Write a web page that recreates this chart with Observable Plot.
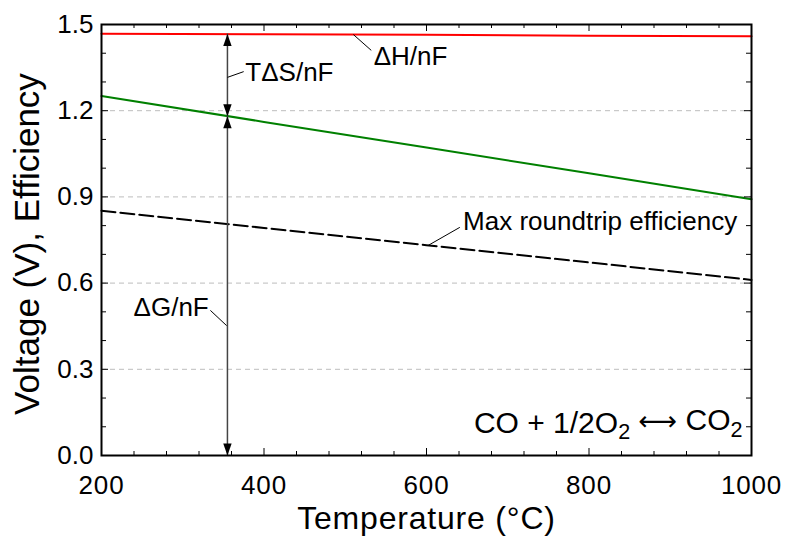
<!DOCTYPE html>
<html>
<head>
<meta charset="utf-8">
<script src="https://cdn.jsdelivr.net/npm/d3@7"></script>
<script src="https://cdn.jsdelivr.net/npm/@observablehq/plot@0.6"></script>
<style>
  html, body { margin: 0; padding: 0; background: #fff; }
</style>
</head>
<body>
<div id="chart"></div>
<script>
// ---- data ----
const temps = [200, 400, 600, 800, 1000];
const dHnF  = [1.468, 1.466, 1.464, 1.461, 1.459];
const dGnF  = [1.251, 1.161, 1.072, 0.982, 0.892];
const effic = [0.852, 0.792, 0.732, 0.672, 0.611];

const xMajorTicks = [200, 400, 600, 800, 1000];
const xMinorTicks = [240, 280, 320, 360, 440, 480, 520, 560, 640, 680, 720, 760, 840, 880, 920, 960];
const yMajorTicks = [0, 0.3, 0.6, 0.9, 1.2, 1.5];
const yMinorTicks = [0.1, 0.2, 0.4, 0.5, 0.7, 0.8, 1.0, 1.1, 1.3, 1.4];
const yGrid = [0.3, 0.6, 0.9, 1.2];

// arrows at T = 355 °C
const arrowT = 355;
const arrowLevels = [1.467, 1.181, 0]; // ΔH/nF, ΔG/nF, 0

// annotation labels and leader lines
const labels = [
  {text: "ΔH/nF", T: 535, v: 1.389, anchor: "start"},
  {text: "TΔS/nF", T: 377, v: 1.333, anchor: "start"},
  {text: "Max roundtrip efficiency", T: 645, v: 0.814, anchor: "start"},
  {text: "ΔG/nF", T: 332, v: 0.513, anchor: "end"}
];
const leaders = [
  {T1: 510, v1: 1.465, T2: 532, v2: 1.41},
  {T1: 355, v1: 1.316, T2: 375, v2: 1.336},
  {T1: 602, v1: 0.731, T2: 641, v2: 0.794},
  {T1: 334, v1: 0.505, T2: 354, v2: 0.452}
];
const reaction = {text: "CO + 1/2O2 ↔ CO2", T: 989, v: 0.112};
const xTitle = "Temperature (°C)";
const yTitle = "Voltage (V), Efficiency";

// ---- build tables ----
const rows = temps.map((t, i) => ({t, dH: dHnF[i], dG: dGnF[i], eff: effic[i]}));
const shafts = [
  {y1: arrowLevels[0], y2: arrowLevels[1]},
  {y1: arrowLevels[1], y2: arrowLevels[2]}
];
const headsUp = [arrowLevels[0], arrowLevels[1]];
const headsDown = [arrowLevels[1], arrowLevels[2]];

const arrowUp = {draw(ctx) { ctx.moveTo(0, 0); ctx.lineTo(4.2, 12); ctx.lineTo(-4.2, 12); ctx.closePath(); }};
const arrowDown = {draw(ctx) { ctx.moveTo(0, 0); ctx.lineTo(4.2, -12); ctx.lineTo(-4.2, -12); ctx.closePath(); }};

const W = 785, H = 541;
const mL = 101, mR = 34, mT = 24, mB = 86;
const fw = W - mL - mR, fh = H - mT - mB;
const font = "'Liberation Sans', Arial, Helvetica, sans-serif";

const svg = Plot.plot({
  width: W,
  height: H,
  marginLeft: mL,
  marginRight: mR,
  marginTop: mT,
  marginBottom: mB,
  style: {fontFamily: font, fontSize: "26px", background: "#fff", color: "#000"},
  x: {domain: [200, 1000]},
  y: {domain: [0, 1.5]},
  marks: [
    Plot.ruleY(yGrid, {stroke: "#bdbdbd", strokeWidth: 1, strokeDasharray: "5,4"}),
    Plot.line(rows, {x: "t", y: "eff", stroke: "#000", strokeWidth: 2, strokeDasharray: "14,5"}),
    Plot.line(rows, {x: "t", y: "dG", stroke: "#008000", strokeWidth: 2}),
    Plot.line(rows, {x: "t", y: "dH", stroke: "#ff0000", strokeWidth: 2}),
    // arrows
    Plot.ruleX(shafts, {x: () => arrowT, y1: "y1", y2: "y2", stroke: "#444", strokeWidth: 1.5}),
    Plot.dot(headsUp, {x: () => arrowT, y: d => d, symbol: arrowUp, r: 5, fill: "#000", stroke: "none"}),
    Plot.dot(headsDown, {x: () => arrowT, y: d => d, symbol: arrowDown, r: 5, fill: "#000", stroke: "none"}),
    // leaders
    Plot.link(leaders, {x1: "T1", y1: "v1", x2: "T2", y2: "v2", stroke: "#000", strokeWidth: 1}),
    // labels
    Plot.text(labels.filter(d => d.anchor === "start"), {x: "T", y: "v", text: "text", textAnchor: "start", fontSize: 26, fill: "#000"}),
    Plot.text(labels.filter(d => d.anchor === "end"), {x: "T", y: "v", text: "text", textAnchor: "end", fontSize: 26, fill: "#000"}),
    Plot.text([reaction], {x: "T", y: "v", text: "text", textAnchor: "end", fontSize: 30, fill: "#000"}),
    // frame
    Plot.frame({stroke: "#000", strokeWidth: 2}),
    // inward ticks
    Plot.tickX(xMajorTicks, {x: d => d, insetTop: fh - 7, stroke: "#000", strokeWidth: 1}),
    Plot.tickX(xMajorTicks, {x: d => d, insetBottom: fh - 7, stroke: "#000", strokeWidth: 1}),
    Plot.tickX(xMinorTicks, {x: d => d, insetTop: fh - 4, stroke: "#000", strokeWidth: 1}),
    Plot.tickX(xMinorTicks, {x: d => d, insetBottom: fh - 4, stroke: "#000", strokeWidth: 1}),
    Plot.tickY(yMajorTicks, {y: d => d, insetRight: fw - 7, stroke: "#000", strokeWidth: 1}),
    Plot.tickY(yMajorTicks, {y: d => d, insetLeft: fw - 7, stroke: "#000", strokeWidth: 1}),
    Plot.tickY(yMinorTicks, {y: d => d, insetRight: fw - 5, stroke: "#000", strokeWidth: 1}),
    Plot.tickY(yMinorTicks, {y: d => d, insetLeft: fw - 5, stroke: "#000", strokeWidth: 1}),
    // axes labels
    Plot.axisX(xMajorTicks, {tickSize: 0, tickPadding: 20, tickFormat: d => String(d), label: null, fontSize: 26}),
    Plot.axisY(yMajorTicks, {tickSize: 0, tickPadding: 8, tickFormat: d => d.toFixed(1), label: null, fontSize: 26}),
    // axis titles
    Plot.text([xTitle], {frameAnchor: "bottom", text: d => d, textAnchor: "middle", lineAnchor: "middle", dy: 63, fontSize: 32, fill: "#000"}),
    Plot.text([yTitle], {frameAnchor: "left", text: d => d, textAnchor: "middle", lineAnchor: "middle", rotate: -90, dx: -74, dy: 4, fontSize: 35, fill: "#000"})
  ]
});

const root = d3.select(svg);
// letter spacing on the x title and x tick labels (the reference text is slightly wide)
root.selectAll("text").each(function() {
  const s = this.textContent;
  if (s === xTitle) this.setAttribute("letter-spacing", "0.8");
  if (xMajorTicks.map(String).includes(s)) this.setAttribute("letter-spacing", "0.8");
});
// subscripts for the reaction label
root.selectAll("text").filter(function() { return this.textContent === reaction.text; }).each(function() {
  const t = d3.select(this);
  t.text(null);
  t.append("tspan").text("CO + 1/2O");
  t.append("tspan").attr("font-size", "0.72em").attr("dy", "0.3em").text("2");
  t.append("tspan").attr("dy", "-0.3em").text(" ");
  t.append("tspan").attr("font-family", "'DejaVu Sans', sans-serif").attr("font-size", "0.9em").text("⟷");
  t.append("tspan").text(" CO");
  t.append("tspan").attr("font-size", "0.72em").attr("dy", "0.3em").text("2");
});

document.getElementById("chart").appendChild(svg);
</script>
</body>
</html>
